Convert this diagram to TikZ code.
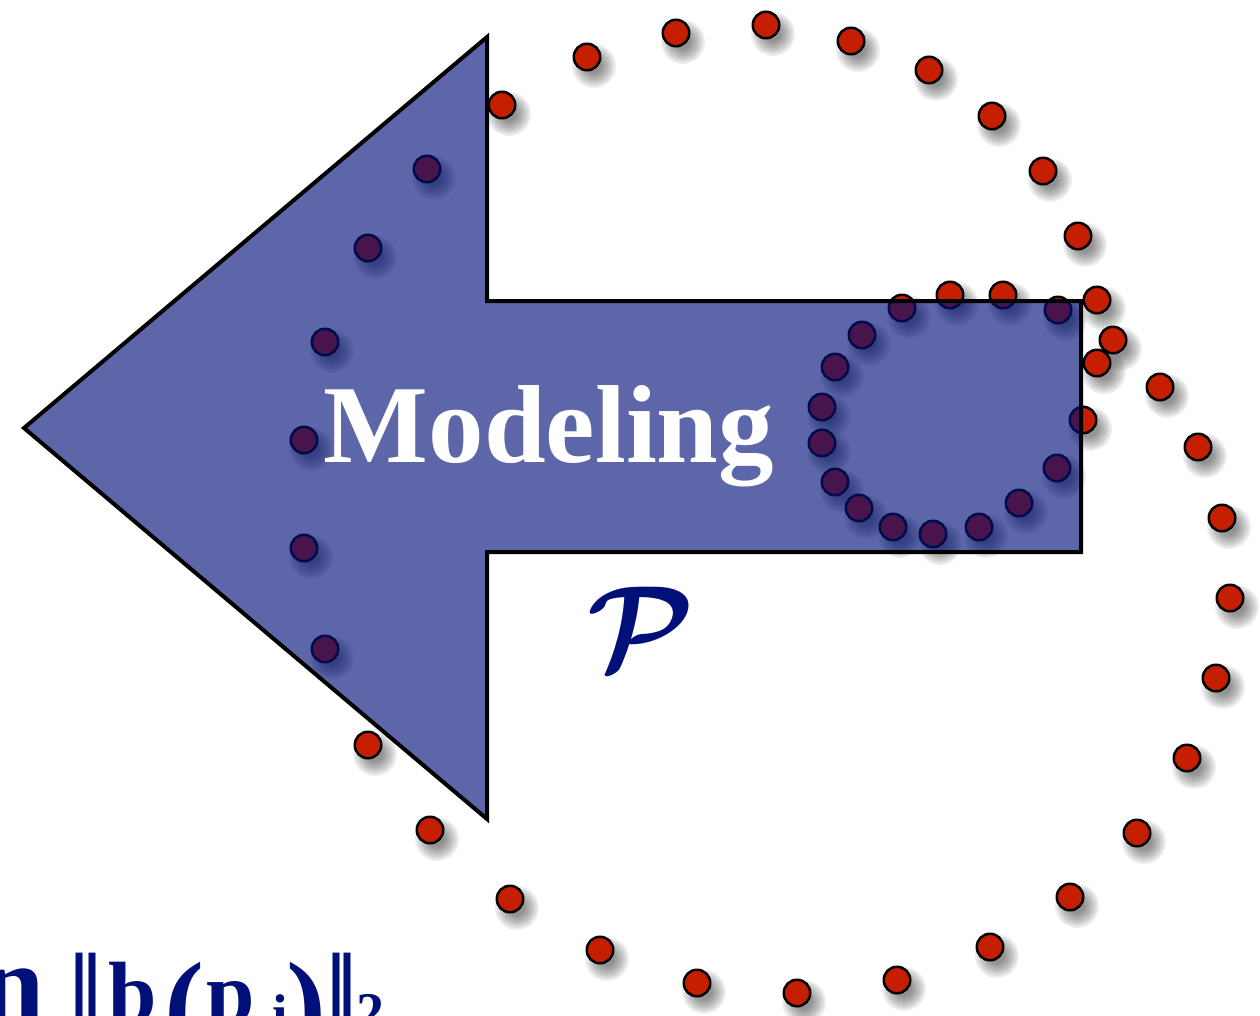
\documentclass[tikz,border=0pt]{standalone}
\usepackage{amsmath}
\usepackage{fontspec}
\setmainfont{Liberation Serif}
\definecolor{navy}{RGB}{0,16,120}
\definecolor{dotred}{RGB}{198,30,0}
\tikzset{
  dot/.style={circle, fill=dotred, draw=black, line width=2.5pt, minimum size=26.5pt, inner sep=0pt},
  shadowblob/.style={fill=black, opacity=0.065},
  arrowshape/.style={fill=navy, fill opacity=0.64, draw=black, draw opacity=1, line width=4pt, line join=miter},
  title/.style={text=white, font=\fontsize{111}{111}\selectfont\bfseries, inner sep=0pt},
  formula/.style={text=navy, inner sep=0pt, font=\bfseries},
  setsym/.style={text=navy, inner sep=0pt}
}
\newcommand{\gl}[3]{\rlap{\hspace*{#1pt}\fontsize{#2}{#2}\selectfont #3}}
\newcommand{\glr}[4]{\rlap{\hspace*{#1pt}\fontsize{#2}{#2}\selectfont\raisebox{#3pt}{#4}}}
\begin{document}
\begin{tikzpicture}[x=1pt,y=-1pt]
\useasboundingbox (0,0) rectangle (1260,1015);
\def\dotlist{502/105, 587/57, 676/33, 766/25, 851/41, 929/70, 992/116, 1043/171, 1078/236, 1097/300, 1113/340, 1097/363, 1083/420, 1160/387, 1198/447, 1222/518, 1230/598, 1216/678, 1187/758, 1137/833, 1070/897, 990/947, 897/980, 797/993, 697/983, 600/950, 510/899, 430/830, 368/745, 325/649, 304/548, 304/440, 325/342, 368/248, 427/169, 950/295, 1003/295, 902/308, 1058/310, 862/335, 835/367, 822/407, 822/443, 835/482, 859/508, 893/527, 933/534, 979/527, 1019/503, 1057/468}
% soft shadows
\foreach \x/\y in \dotlist {
  \foreach \r in {8,10,...,22} {
    \fill[shadowblob] (\x+7,\y+9) circle (\r pt);
  }
}
% dots
\foreach \x/\y [count=\i] in \dotlist {
  \node[dot] (d\i) at (\x,\y) {};
}
% arrow
\draw[arrowshape] (24,428) -- (487,37) -- (487,301) -- (1081,301) -- (1081,552) -- (487,552) -- (487,819) -- cycle;
\node[title, anchor=base] (modeling) at (549,462) {Modeling};
\node[setsym] (pset) at (641,628) {\scalebox{12}{$\boldsymbol{\mathcal{P}}$}};
\begin{scope}
\clip (0,0) rectangle (1260,1015);
\node[formula, anchor=base west] (obj) at (0,1022) {%
\gl{-19}{114}{n}%
\gl{68.5}{100}{|}\gl{81.5}{100}{|}%
\gl{108.5}{87}{b}%
\glr{164}{120}{-23}{(}%
\gl{206}{87}{p}%
\glr{272}{56}{-11}{i}%
\glr{286}{120}{-23}{)}%
\gl{325.5}{100}{|}\gl{336.5}{100}{|}%
\glr{356}{56}{-9}{2}%
\phantom{x}};
\end{scope}
\end{tikzpicture}
\end{document}
